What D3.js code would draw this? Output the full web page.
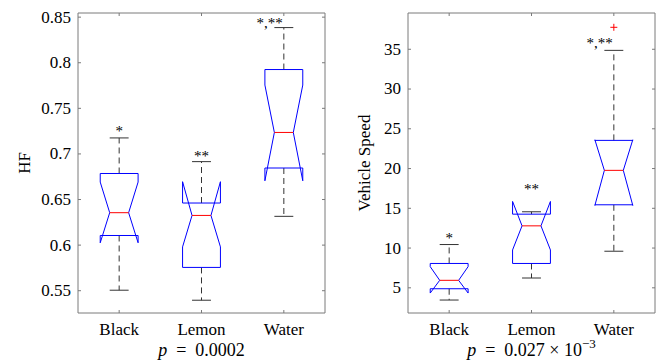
<!DOCTYPE html>
<html><head><meta charset="utf-8">
<script src="https://cdn.jsdelivr.net/npm/d3@7"></script>
<style>
body{margin:0;background:#fff;}
svg{display:block;}
text{font-family:"Liberation Serif","Times New Roman",serif;fill:#000;}
</style></head>
<body><svg id="c" width="659" height="363"></svg>
<script>
// ---------- data ----------
const categories = ["Black", "Lemon", "Water"];

// HF panel
const hfTicks = [0.55, 0.6, 0.65, 0.7, 0.75, 0.8, 0.85];
const hfTickLabels = ["0.55", "0.6", "0.65", "0.7", "0.75", "0.8", "0.85"];
const hfWhiskerLow  = [0.550, 0.539, 0.631];
const hfQ1          = [0.610, 0.575, 0.684];
const hfNotchLow    = [0.602, 0.5975, 0.670];
const hfMedian      = [0.635, 0.632, 0.723];
const hfNotchHigh   = [0.6686, 0.669, 0.775];
const hfQ3          = [0.678, 0.6456, 0.792];
const hfWhiskerHigh = [0.717, 0.691, 0.838];
const hfStars       = ["*", "**", "*,**"];
const hfStarY       = [0.7276, 0.7008, 0.846];
const hfOutlierCat  = [];
const hfOutlierVal  = [];

// Vehicle speed panel
const speedTicks = [5, 10, 15, 20, 25, 30, 35];
const speedTickLabels = ["5", "10", "15", "20", "25", "30", "35"];
const speedWhiskerLow  = [3.4, 6.17, 9.54];
const speedQ1          = [4.82, 8.0, 15.38];
const speedNotchLow    = [4.28, 9.7, 15.3];
const speedMedian      = [5.88, 12.73, 19.71];
const speedNotchHigh   = [7.6, 15.8, 23.55];
const speedQ3          = [8.0, 14.2, 23.48];
const speedWhiskerHigh = [10.38, 14.5, 34.8];
const speedStars       = ["*", "**", "*,**"];
const speedStarY       = [11.6, 17.76, 36.1];
const speedOutlierCat  = ["Water"];
const speedOutlierVal  = [37.7];

// ---------- drawing ----------
const svg = d3.select("#c");
const AX = "#7a7a7a";

function panel(o) {
  const g = svg.append("g");
  const x = d3.scaleBand().domain(categories).range([o.x0, o.x1]).paddingInner(0).paddingOuter(0);
  const y = d3.scaleLinear().domain(o.domain).range([o.y1, o.y0]);
  const cx = c => x(c) + x.bandwidth() / 2;
  const hw = x.bandwidth() * 0.23;
  const iw = hw * 0.5;

  // axes
  const yl = g.append("g").attr("transform", `translate(${o.x0},0)`)
    .call(d3.axisLeft(y).tickValues(o.ticks).tickFormat((d, i) => o.tickLabels[i]).tickSize(-3).tickSizeOuter(0).tickPadding(7));
  const yr = g.append("g").attr("transform", `translate(${o.x1},0)`)
    .call(d3.axisRight(y).tickValues(o.ticks).tickFormat("").tickSize(-3).tickSizeOuter(0));
  const xt = g.append("g").attr("transform", `translate(0,${o.y0})`)
    .call(d3.axisTop(x).tickFormat("").tickSize(-3).tickSizeOuter(0));
  const xb = g.append("g").attr("transform", `translate(0,${o.y1})`)
    .call(d3.axisBottom(x).tickSize(-3).tickSizeOuter(0).tickPadding(9));
  [yl, yr, xt, xb].forEach(a => {
    a.selectAll("path,line").attr("stroke", AX).attr("stroke-width", 1);
    a.selectAll("text").attr("font-size", 17).attr("font-family", '"Liberation Serif",serif').attr("fill", "#000");
  });
  yl.select(".domain").attr("d", `M0,${o.y0}V${o.y1}`);
  yr.select(".domain").attr("d", `M0,${o.y0}V${o.y1}`);
  xt.select(".domain").attr("d", `M${o.x0},0H${o.x1}`);
  xb.select(".domain").attr("d", `M${o.x0},0H${o.x1}`);
  xb.selectAll("text").attr("dy", "0.71em").attr("y", 10);

  // y label
  g.append("text").attr("transform", `translate(${o.ylabX},${(o.y0 + o.y1) / 2}) rotate(-90)`)
    .attr("text-anchor", "middle").attr("font-size", 17).text(o.ylabel);

  categories.forEach((c, i) => {
    const xc = cx(c);
    g.append("line").attr("x1", xc).attr("x2", xc).attr("y1", y(o.q3[i])).attr("y2", y(o.wh[i]))
      .attr("stroke", "#333").attr("stroke-dasharray", "6,4");
    g.append("line").attr("x1", xc).attr("x2", xc).attr("y1", y(o.q1[i])).attr("y2", y(o.wl[i]))
      .attr("stroke", "#333").attr("stroke-dasharray", "6,4");
    [o.wh[i], o.wl[i]].forEach(v => {
      g.append("line").attr("x1", xc - iw).attr("x2", xc + iw).attr("y1", y(v)).attr("y2", y(v))
        .attr("stroke", "#333");
    });
    const L = xc - hw, R = xc + hw;
    const pts = [
      [L, y(o.q1[i])], [L, y(o.nl[i])], [xc - iw, y(o.med[i])], [L, y(o.nh[i])], [L, y(o.q3[i])],
      [R, y(o.q3[i])], [R, y(o.nh[i])], [xc + iw, y(o.med[i])], [R, y(o.nl[i])], [R, y(o.q1[i])], [L, y(o.q1[i])]
    ];
    g.append("path").attr("d", d3.line()(pts)).attr("fill", "none").attr("stroke", "#0000ff").attr("stroke-width", 1);
    g.append("line").attr("x1", xc - iw).attr("x2", xc + iw).attr("y1", y(o.med[i])).attr("y2", y(o.med[i]))
      .attr("stroke", "#ff0000");
    const s = o.stars[i];
    g.append("text").attr("x", s.length > 2 ? xc - 1 : xc).attr("y", y(o.starY[i]) + 8)
      .attr("text-anchor", s.length > 2 ? "end" : "middle").attr("font-size", 15).text(s);
  });
  o.outCat.forEach((c, i) => {
    const xc = cx(c), yy = y(o.outVal[i]);
    g.append("path").attr("d", `M${xc - 3.5},${yy}H${xc + 3.5}M${xc},${yy - 3.5}V${yy + 3.5}`)
      .attr("stroke", "#ff0000").attr("fill", "none");
  });
  return g;
}

panel({
  x0: 78, x1: 325, y0: 13, y1: 313, domain: [0.525, 0.854],
  ticks: hfTicks, tickLabels: hfTickLabels, ylabel: "HF", ylabX: 30,
  wl: hfWhiskerLow, q1: hfQ1, nl: hfNotchLow, med: hfMedian, nh: hfNotchHigh, q3: hfQ3, wh: hfWhiskerHigh,
  stars: hfStars, starY: hfStarY, outCat: hfOutlierCat, outVal: hfOutlierVal
});
panel({
  x0: 408, x1: 655, y0: 13, y1: 313, domain: [1.77, 39.5],
  ticks: speedTicks, tickLabels: speedTickLabels, ylabel: "Vehicle Speed", ylabX: 370,
  wl: speedWhiskerLow, q1: speedQ1, nl: speedNotchLow, med: speedMedian, nh: speedNotchHigh, q3: speedQ3, wh: speedWhiskerHigh,
  stars: speedStars, starY: speedStarY, outCat: speedOutlierCat, outVal: speedOutlierVal
});

// p-value captions
const t1 = svg.append("text").attr("x", 201.5).attr("y", 356).attr("text-anchor", "middle").attr("font-size", 18);
t1.append("tspan").attr("font-style", "italic").text("p");
t1.append("tspan").text("\u2002=\u20020.0002");
const t2 = svg.append("text").attr("x", 531.5).attr("y", 356).attr("text-anchor", "middle").attr("font-size", 18);
t2.append("tspan").attr("font-style", "italic").text("p");
t2.append("tspan").text("\u2002=\u20020.027 × 10");
t2.append("tspan").attr("font-size", 13).attr("dy", -8).text("−3");
</script>
</body></html>
